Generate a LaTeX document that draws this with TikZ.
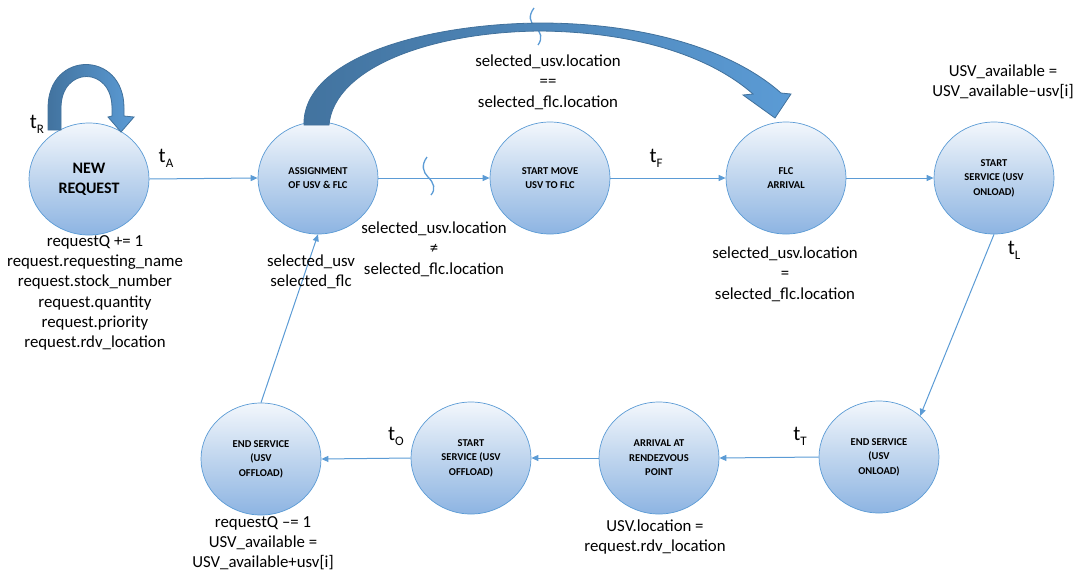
\documentclass[tikz,border=0pt]{standalone}
\usepackage{fontspec}
\setmainfont{Carlito}
\usetikzlibrary{shapes.geometric,arrows.meta}
\definecolor{edgeblue}{HTML}{5B9BD5}
\definecolor{darkblue}{HTML}{41719C}
\definecolor{fillhi}{HTML}{F3F7FC}
\definecolor{fillmid}{HTML}{BFD5EE}
\definecolor{filllo}{HTML}{8DB4E2}
\newcommand{\tsub}[1]{{\fontsize{21}{21}\selectfont t}\raisebox{-5pt}{\fontsize{13}{13}\selectfont #1}}
\begin{document}
\begin{tikzpicture}[x=1pt,y=-1pt,
  state/.style={ellipse, draw=edgeblue, line width=0.7pt, minimum width=120pt,
    minimum height=112pt, inner sep=0pt, align=center,
    top color=fillhi, bottom color=filllo, middle color=fillmid,
    font=\bfseries\fontsize{10.5}{14.5}\selectfont},
  bigstate/.style={state, font=\bfseries\fontsize{16}{20}\selectfont},
  flow/.style={draw=edgeblue, line width=1pt, -{Triangle[length=7pt,width=6pt]}},
  lbl/.style={align=center, inner sep=0pt, font=\fontsize{16.8}{20.3}\selectfont},
  tlbl/.style={inner sep=0pt},
  squig/.style={draw=edgeblue, line width=1.3pt},
  block/.style={draw=darkblue, line width=0.8pt, left color=darkblue!95!edgeblue, right color=edgeblue}
]
\useasboundingbox (0,0) rectangle (1076,571);

% states, top row
\node[bigstate] (new)    at (89,179)  {NEW\\REQUEST};
\node[state]    (assign) at (318,178) {ASSIGNMENT\\OF USV \& FLC};
\node[state]    (move)   at (550,178) {START MOVE\\USV TO FLC};
\node[state]    (flc)    at (786,178) {FLC\\ARRIVAL};
\node[state]    (sson)   at (994,178) {START\\SERVICE (USV\\ONLOAD)};
% states, bottom row
\node[state]    (endon)  at (879,457) {END SERVICE\\(USV\\ONLOAD)};
\node[state]    (arr)    at (659,458) {ARRIVAL AT\\RENDEZVOUS\\POINT};
\node[state]    (ssoff)  at (471,458) {START\\SERVICE (USV\\OFFLOAD)};
\node[state]    (endoff) at (261,459) {END SERVICE\\(USV\\OFFLOAD)};

% transitions
\draw[flow] (new.east) -- (assign.west);
\draw[flow] (assign.east) -- (move.west);
\draw[flow] (move.east) -- (flc.west);
\draw[flow] (flc.east) -- (sson.west);
\draw[flow] (sson.south) -- (endon.45);
\draw[flow] (endon.west) -- (arr.east);
\draw[flow] (arr.west) -- (ssoff.east);
\draw[flow] (ssoff.west) -- (endoff.east);
\draw[flow] (endoff.north) -- (assign.south);

% break marks on the two skip paths
\draw[squig] (427,157) .. controls (421,165) and (423,172) .. (428,177)
                       .. controls (434,183) and (436,189) .. (431,195);
\draw[squig] (534,8) .. controls (528,16) and (530,22) .. (535,27)
                     .. controls (541,32) and (543,38) .. (538,45);

% wide bypass arrow from assignment to FLC arrival
\path[block] (304,125) .. controls (302,60) and (420,24) .. (540,23)
             .. controls (650,23) and (735,52) .. (781,93)
             -- (791,94) -- (775,118) -- (743,95) -- (753,94)
             .. controls (712,58) and (640,32) .. (540,31)
             .. controls (430,32) and (334,68) .. (329,125) -- cycle;

% self-loop on new request
\path[block] (48,130) -- (48,108) .. controls (48,50) and (124,50) .. (124,108)
             -- (124,116) -- (134,117) -- (121,132) -- (108,117) -- (112,116)
             -- (112,108) .. controls (112,66) and (61,66) .. (61,108) -- (61,130) -- cycle;

% transition timers
\node[tlbl] (tR) at (37,124)  {\tsub{R}};
\node[tlbl] (tA) at (166,158) {\tsub{A}};
\node[tlbl] (tF) at (656,158) {\tsub{F}};
\node[tlbl] (tL) at (1014,250) {\tsub{L}};
\node[tlbl] (tT) at (800,436) {\tsub{T}};
\node[tlbl] (tO) at (396,436) {\tsub{O}};

% guard and update annotations
\node[lbl] (eq)  at (548,82)  {selected\_usv.location\\==\\selected\_flc.location};
\node[lbl] (ne)  at (434,249) {selected\_usv.location\\≠\\selected\_flc.location};
\node[lbl] (sel) at (311,272) {selected\_usv\\selected\_flc};
\node[lbl] (at)  at (785,274) {selected\_usv.location\\=\\selected\_flc.location};
\node[lbl] (dec) at (1003,82) {USV\_available =\\USV\_available–usv[i]};
\node[lbl] (req) at (95,293)  {requestQ += 1\\request.requesting\_name\\request.stock\_number\\request.quantity\\request.priority\\request.rdv\_location};
\node[lbl] (inc) at (263,543) {requestQ –= 1\\USV\_available =\\USV\_available+usv[i]};
\node[lbl] (rdv) at (655,537) {USV.location =\\request.rdv\_location};
\end{tikzpicture}
\end{document}
